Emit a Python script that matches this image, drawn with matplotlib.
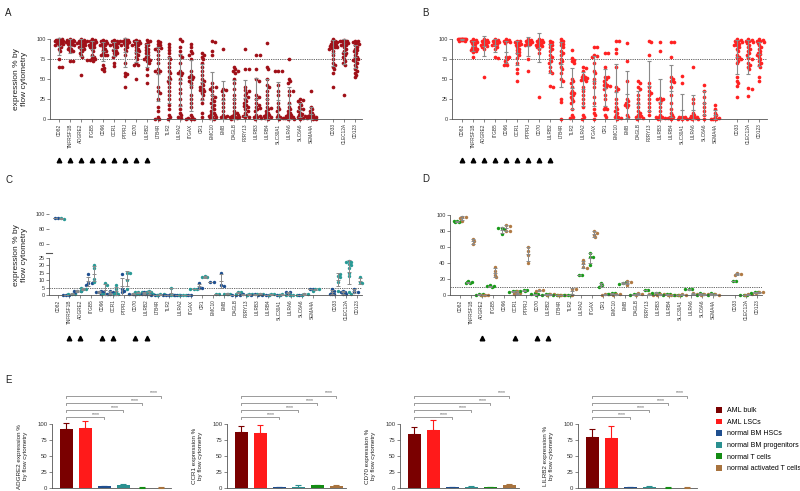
import numpy as np
import matplotlib
matplotlib.use("Agg")
import matplotlib.pyplot as plt
from matplotlib.patches import Patch
from matplotlib.lines import Line2D
from matplotlib.transforms import blended_transform_factory

plt.rcParams['font.family'] = ['Liberation Sans', 'DejaVu Sans']

# ---------------- data ----------------
genes = ['CD82', 'TNFRSF1B', 'ADGRE2', 'ITGB5', 'CD96', 'CCR1', 'PTPRJ', 'CD70', 'LILRB2',
         'LTB4R', 'TLR2', 'LILRA2', 'ITGAX', 'CR1', 'EMC10', 'EMB', 'DAGLB', 'P2RY13',
         'LILRB3', 'LILRB4', 'SLC30A1', 'LILRA6', 'SLC6A6', 'SEMA4A', 'CD33', 'CLEC12A', 'CD123']

aml_bulk = [
    [100, 100, 99, 98, 98, 97, 97, 96, 95, 95, 94, 93, 92, 90, 88, 85, 75, 65, 65],
    [100, 99, 99, 98, 97, 97, 96, 95, 95, 94, 93, 92, 90, 88, 87, 85, 85, 72, 72],
    [100, 99, 98, 97, 96, 95, 95, 94, 93, 92, 90, 90, 88, 87, 85, 83, 80, 77, 55],
    [100, 99, 98, 98, 97, 96, 95, 94, 93, 92, 90, 90, 88, 85, 80, 78, 76, 75, 74, 74, 73],
    [99, 98, 97, 96, 95, 94, 93, 92, 90, 88, 86, 85, 82, 80, 80, 80, 67, 64, 62, 60],
    [99, 98, 97, 96, 95, 94, 93, 92, 91, 90, 88, 86, 85, 83, 82, 80, 78, 70, 66],
    [100, 99, 98, 98, 97, 96, 95, 94, 93, 92, 90, 88, 85, 80, 70, 58, 56, 54, 40],
    [99, 98, 97, 96, 95, 94, 93, 92, 90, 88, 86, 85, 82, 80, 78, 75, 70, 68, 68, 50],
    [99, 98, 96, 94, 92, 90, 88, 86, 84, 82, 80, 78, 76, 75, 74, 72, 70, 62, 55, 45],
    [98, 96, 94, 92, 90, 89, 88, 85, 80, 75, 70, 62, 60, 60, 58, 40, 35, 33, 25, 15, 10, 3, 0, 0],
    [94, 90, 86, 82, 78, 75, 70, 65, 60, 57, 53, 50, 48, 45, 40, 35, 30, 25, 18, 12, 5, 2, 0],
    [100, 98, 90, 85, 80, 78, 70, 60, 58, 57, 55, 50, 45, 38, 32, 25, 18, 12, 8, 5, 3, 1],
    [94, 90, 85, 82, 80, 75, 60, 55, 53, 52, 50, 48, 45, 40, 30, 25, 20, 15, 5, 2, 1, 0, 0, 0],
    [82, 80, 78, 75, 70, 65, 60, 55, 50, 48, 45, 42, 40, 38, 36, 35, 33, 30, 25, 20, 8, 3],
    [98, 96, 85, 80, 45, 40, 40, 38, 35, 30, 28, 25, 22, 20, 18, 15, 12, 10, 8, 6, 5, 4, 3, 2, 1, 0],
    [88, 38, 36, 35, 30, 25, 20, 15, 10, 5, 4, 3, 2],
    [65, 62, 60, 60, 58, 50, 45, 38, 30, 25, 20, 15, 10, 8, 6, 5, 4, 3, 2, 2, 1, 1, 0],
    [88, 63, 63, 40, 36, 35, 33, 30, 28, 25, 22, 20, 18, 16, 15, 12, 10, 8, 5, 4, 3, 2],
    [80, 80, 62, 50, 48, 30, 28, 25, 20, 18, 15, 14, 12, 10, 5, 4, 3, 2, 1, 0],
    [95, 65, 62, 50, 42, 40, 35, 30, 25, 20, 15, 14, 12, 10, 8, 6, 5, 4, 3, 2, 1, 0],
    [60, 60, 60, 42, 35, 30, 20, 15, 12, 10, 5, 3, 2, 1, 0],
    [75, 50, 47, 45, 35, 35, 30, 20, 15, 12, 10, 8, 6, 5, 4, 3, 2, 2, 1, 1, 0, 0],
    [25, 24, 23, 20, 17, 15, 12, 12, 10, 8, 6, 5, 4, 3, 2, 1, 0],
    [35, 15, 12, 10, 8, 6, 5, 4, 3, 3, 2, 2, 1, 1, 0, 0],
    [100, 98, 97, 96, 95, 94, 93, 92, 91, 90, 90, 89, 88, 85, 80, 75, 70, 68, 65, 62, 58, 40],
    [99, 98, 97, 97, 96, 95, 94, 93, 92, 90, 88, 85, 83, 82, 80, 78, 75, 72, 70, 68, 30],
    [98, 97, 96, 95, 94, 92, 90, 88, 86, 85, 83, 80, 78, 76, 75, 74, 72, 70, 68, 65, 62, 60, 58, 55, 52],
]

aml_lsc = [
    [100, 100, 100, 100, 100, 100, 100, 100, 100, 100, 99, 99, 99, 98, 98],
    [100, 99, 98, 97, 96, 95, 94, 92, 90, 89, 88, 87, 86, 85, 84, 77],
    [100, 99, 98, 97, 96, 95, 94, 93, 92, 91, 90, 88, 52],
    [100, 99, 98, 97, 96, 95, 94, 93, 92, 90, 88, 77, 76],
    [100, 99, 98, 97, 96, 95, 78, 77, 75, 73, 70, 67, 67],
    [98, 97, 96, 95, 94, 93, 92, 90, 88, 86, 84, 82, 80, 76, 70, 62, 58, 47],
    [100, 99, 98, 97, 96, 95, 94, 93, 92, 75, 60],
    [100, 99, 98, 97, 96, 95, 94, 93, 92, 91, 90, 88, 82, 28],
    [98, 96, 94, 92, 90, 88, 85, 80, 78, 75, 72, 70, 65, 60, 58, 41, 40],
    [100, 98, 96, 94, 92, 90, 85, 83, 80, 75, 72, 70, 65, 62, 58, 50, 48, 25, 21, 0],
    [86, 76, 74, 72, 70, 50, 47, 45, 40, 35, 33, 32, 30, 28, 25, 22, 20, 13, 5, 2, 1],
    [65, 64, 60, 55, 53, 52, 51, 50, 49, 48, 40, 35, 30, 25, 20, 15, 5, 2, 0],
    [90, 90, 80, 79, 78, 70, 60, 57, 50, 45, 40, 28, 20, 12, 8, 5, 0],
    [83, 83, 65, 53, 52, 50, 48, 45, 43, 42, 41, 40, 38, 30, 25, 15, 13, 12, 5, 2],
    [97, 97, 87, 83, 65, 40, 38, 35, 25, 20, 15, 12, 10, 8, 5, 3, 2, 1, 0],
    [95, 72, 47, 25, 22, 20, 18, 17, 15, 5, 2],
    [47, 45, 40, 38, 30, 25, 20, 15, 10, 8, 5, 4, 3, 2, 1, 0],
    [98, 96, 80, 45, 40, 35, 33, 30, 25, 20, 15, 10, 5],
    [96, 85, 26, 25, 25, 24, 20, 15, 10, 5, 3, 2, 2, 1, 1, 0],
    [96, 96, 77, 52, 50, 47, 46, 40, 30, 20, 12, 8, 5, 3, 2, 1, 0],
    [54, 45, 3, 2, 2, 1, 1, 0, 0, 0],
    [65, 25, 20, 8, 5, 4, 3, 2, 1, 1, 0, 0],
    [43, 35, 28, 20, 15, 10, 5, 0],
    [17, 13, 8, 5, 2, 1, 0, 0, 0],
    [100, 99, 98, 97, 96, 95, 94, 93, 92, 90, 88, 85, 80, 78, 76, 75, 73, 70, 53, 48, 45, 41, 28],
    [100, 99, 98, 97, 96, 95, 93, 90, 88, 85, 82, 80, 76, 75, 70, 68, 65, 62, 39, 38, 29],
    [100, 99, 98, 97, 96, 95, 92, 90, 88, 85, 83, 81, 80, 78, 75, 72, 70, 68, 65, 52, 47],
]

bm_hsc = [
    [95, 95], [0, 0, 0], [3, 3, 2, 3], [14, 8, 8, 7], [2, 2, 2, 1, 3], [3, 2, 1, 1, 0.5],
    [14, 4, 3, 2], [1, 1, 0.5, 0.5], [2, 2, 1, 1, 0.5], [0, 0, 0], [0, 0, 0], [0, 0, 0],
    [0, 0], [8, 5, 5], [9, 9], [15, 7, 6], [0, 0], [0.5, 0, 0], [0.5, 0, 0], [0, 0, 0],
    [0, 0], [1, 2, 2, 0], [0, 0], [4, 4], [4, 3, 2, 1, 1, 0.5], [3, 2, 2, 1, 1], [4, 2, 2],
]
bm_prog = [
    [94, 93], [1, 1, 0.5], [4, 4, 3, 5], [20, 18, 11, 9], [8, 7, 1, 1, 0.5], [7, 4, 2, 1, 1, 0.5],
    [15, 15, 10, 4], [2, 2, 1, 2, 1], [3, 2, 2, 1, 1], [0.5, 0.5, 0], [0, 5, 0], [0, 0, 0],
    [4, 4, 4], [13, 12, 12], [0.5, 0.5], [1, 1, 1, 0.5], [2, 2, 1], [1, 0.5, 0], [1, 1, 0.5],
    [1, 0.5, 0], [0.5, 0, 0], [0, 0, 0], [1, 1, 0], [4, 4, 3], [13, 12, 9, 3, 14],
    [23, 22, 22, 21, 20, 18, 15, 13, 2, 1], [12, 9, 8],
]
t_cells = [
    [93, 92, 91, 91, 92], [17, 16, 15, 15, 16], [1, 1, 0.5, 0.5], [12, 11, 11, 10],
    [84, 82, 76, 84], [5, 5, 4, 4], [6, 6, 5, 5], [2, 1, 1, 0.5], [1, 1, 0.5, 0.5],
    [0.5, 0.5, 0], [0, 0, 0], [25, 25], [52, 48, 47, 38], [15, 12, 10], [2, 2, 1],
    [15, 16, 14], [1, 1, 0.5], [6, 6], [3, 3, 2], [1, 1, 0.5], [0.5, 0, 0], [8, 7, 7],
    [2, 1, 0], [2, 1, 0], [17, 17], [0, 0, 0], [4, 4, 3],
]
act_t_cells = [
    [98, 97, 96, 93], [70, 67, 64], [0.5, 0.5, 0, 0], [35, 30, 25, 22], [87, 86, 80, 80],
    [5, 3, 2, 1], [60, 55, 50, 40], [6, 6, 5], [1, 1, 0.5], [0.5, 0, 0], [7, 7, 0],
    [44, 40, 35, 34], [80, 78, 75, 72], [1, 1, 0], [1, 1, 0.5], [17, 16, 13], [2, 1, 0.5],
    [1, 0], [1, 1, 0], [0.5, 0, 0], [1, 0, 0], [2, 1], [1, 1, 0], [1, 0], [27, 26, 25],
    [1, 1, 0.5], [4, 4, 3],
]

marked_ab = ['CD82', 'TNFRSF1B', 'ADGRE2', 'ITGB5', 'CD96', 'CCR1', 'PTPRJ', 'CD70', 'LILRB2']
marked_c = ['TNFRSF1B', 'ADGRE2', 'CD96', 'CCR1', 'CD70', 'LILRB2']
marked_d = ['ADGRE2', 'CCR1', 'CD70', 'LILRB2']

groups = ['AML bulk', 'AML LSCs', 'normal BM HSCs', 'normal BM progenitors',
          'normal T cells', 'normal activated T cells']
bar_genes = ['ADGRE2', 'CCR1', 'CD70', 'LILRB2']
bar_means = [
    [92, 94, 3, 4, 0.5, 0.5],
    [88, 86, 1, 2, 4, 2.5],
    [84, 91, 1, 2, 1, 5],
    [80, 78, 1, 1.5, 0.5, 0.5],
]
bar_sd = [
    [10, 11, 0.6, 1.5, 0.3, 0.3],
    [9, 13, 1, 2, 1, 1.5],
    [12, 16, 0.5, 1, 0.5, 1],
    [13, 19, 0.5, 1.5, 0.3, 0.3],
]

# ---------------- style ----------------
W, H = 800, 491
fig = plt.figure(figsize=(8, 4.91), dpi=100)

C_BULK = '#a01018'
C_LSC = '#ff2222'
C_HSC = '#1f4f8f'
C_PROG = '#2a9a96'
C_T = '#1a9a1a'
C_ACT = '#b07a44'
BAR_COLORS = ['#7a0000', '#ff1a1a', '#1f4f8f', '#2a9090', '#148c14', '#a8733e']
GRAY = '#8a8a8a'
AX = '#555555'


def pax(x0, y0, x1, y1):
    return fig.add_axes([x0 / W, 1 - y1 / H, (x1 - x0) / W, (y1 - y0) / H])


def style(ax, ysize=4):
    for s in ['top', 'right']:
        ax.spines[s].set_visible(False)
    for s in ['left', 'bottom']:
        ax.spines[s].set_linewidth(0.6)
        ax.spines[s].set_color(AX)
    ax.tick_params(length=2, width=0.5, colors=AX, labelcolor='#333333', pad=1.2)
    ax.tick_params(axis='y', labelsize=ysize)
    ax.tick_params(axis='x', labelsize=3.4)


def swarm_x(vals, center, xpx, ypx, d=2.6, maxoff=4.5):
    step = 1.1
    cands = [0.0]
    k = 1
    while k * step <= maxoff:
        cands += [k * step, -k * step]
        k += 1
    placed, out = [], []
    for v in vals:
        y = v * ypx
        best, bestd = 0.0, -1.0
        for c in cands:
            md = min([(c - px) ** 2 + (y - py) ** 2 for px, py in placed] + [1e9])
            if md >= d * d:
                best = c
                break
            if md > bestd:
                best, bestd = c, md
        placed.append((best, y))
        out.append(center + best / xpx)
    return np.array(out)


def meansd(ax, x, vals, lw=0.8, ms=3):
    v = np.asarray(vals, float)
    m = v.mean()
    s = v.std(ddof=1) if len(v) > 1 else 0.0
    lo = max(m - s, 0)
    ax.errorbar([x], [m], yerr=[[m - lo], [s]], fmt='_', color=GRAY, ecolor=GRAY,
                elinewidth=lw, capsize=1.3, capthick=0.7, ms=ms, mew=0.8,
                zorder=3, clip_on=False)


positions = [i if i < 24 else i + 1 for i in range(len(genes))]


def triangles(ax, marked, yfig):
    trans = blended_transform_factory(ax.transData, fig.transFigure)
    xs = [positions[genes.index(g)] for g in marked]
    ax.plot(xs, [1 - yfig / H] * len(xs), '^', color='black', ms=3.3,
            transform=trans, clip_on=False)


def set_xlabels(ax):
    ax.set_xticks(positions)
    ax.set_xticklabels(genes, rotation=90)


def dotted(ax, y):
    ax.axhline(y, color='#555555', lw=0.6, ls=(0, (1.5, 1.2)), zorder=0)


def scatter_panel(ax, data, color, xpx, ypx):
    for i, vals in enumerate(data):
        xs = swarm_x(vals, positions[i], xpx, ypx)
        ax.scatter(xs, vals, s=7, color=color, linewidths=0, zorder=2, clip_on=False)
        meansd(ax, positions[i], vals)


# ---------------- panel A ----------------
axA = pax(50, 39, 362, 119)
style(axA)
axA.set_xlim(-0.82, 27.64)
axA.set_ylim(0, 100)
axA.set_yticks([0, 25, 50, 75, 100])
dotted(axA, 75)
scatter_panel(axA, aml_bulk, C_BULK, 10.95, 0.8)
set_xlabels(axA)
axA.set_ylabel('expression % by\nflow cytometry', fontsize=6, labelpad=6, color='#222222')
triangles(axA, marked_ab, 160)

# ---------------- panel B ----------------
axB = pax(452, 39, 767, 119)
style(axB)
axB.set_xlim(-0.9, 27.7)
axB.set_ylim(0, 100)
axB.set_yticks([0, 25, 50, 75, 100])
dotted(axB, 75)
scatter_panel(axB, aml_lsc, C_LSC, 11.0, 0.8)
set_xlabels(axB)
triangles(axB, marked_ab, 160)

# ---------------- panel C (broken axis) ----------------
axCu = pax(49, 214, 362, 251)
axCl = pax(49, 258, 362, 295)
for ax in (axCu, axCl):
    style(ax)
    ax.set_xlim(-0.8, 27.45)
axCu.set_ylim(50, 100)
axCu.set_yticks([60, 80, 100])
axCu.spines['bottom'].set_visible(False)
axCu.spines['left'].set_visible(False)
axCu.set_xticks([])
axCl.set_ylim(0, 25)
axCl.set_yticks([0, 5, 10, 15, 20, 25])
dotted(axCl, 5)
for i in range(len(genes)):
    for vals, col, off in ((bm_hsc[i], C_HSC, -0.25), (bm_prog[i], C_PROG, 0.25)):
        x0 = positions[i] + off
        v = np.asarray(vals, float)
        ax = axCu if v.mean() > 25 else axCl
        ypx = 0.725 if ax is axCu else 1.48
        xs = swarm_x(vals, x0, 11.0, ypx, d=2.4, maxoff=3.5)
        ax.scatter(xs, vals, s=6, color=col, linewidths=0, zorder=2, clip_on=False)
        m, s = v.mean(), v.std(ddof=1)
        ax.errorbar([x0], [m], yerr=[[m - max(m - s, 0)], [s]], fmt='_', color=GRAY,
                    ecolor=GRAY, elinewidth=0.7, capsize=1.2, capthick=0.6, ms=2.5,
                    mew=0.7, zorder=3, clip_on=False)
set_xlabels(axCl)
fig.add_artist(Line2D([46 / W, 52 / W], [1 - 253 / H] * 2, color=AX, lw=0.8))
fig.text(21 / W, 1 - 255 / H, 'expression % by\nflow cytometry', fontsize=6, rotation=90,
         ha='center', va='center', color='#222222')
triangles(axCl, marked_c, 338)

# ---------------- panel D ----------------
axD = pax(450, 215, 762, 295)
style(axD)
axD.set_xlim(-0.9, 27.45)
axD.set_ylim(0, 100)
axD.set_yticks([0, 20, 40, 60, 80, 100])
dotted(axD, 10)
for i in range(len(genes)):
    for vals, col, off in ((t_cells[i], C_T, -0.22), (act_t_cells[i], C_ACT, 0.22)):
        x0 = positions[i] + off
        xs = swarm_x(vals, x0, 11.0, 0.8, d=2.4, maxoff=3.5)
        axD.scatter(xs, vals, s=6, color=col, linewidths=0, zorder=2, clip_on=False)
        v = np.asarray(vals, float)
        m, s = v.mean(), v.std(ddof=1)
        axD.errorbar([x0], [m], yerr=[[m - max(m - s, 0)], [s]], fmt='_', color=GRAY,
                     ecolor=GRAY, elinewidth=0.7, capsize=1.2, capthick=0.6, ms=2.5,
                     mew=0.7, zorder=3, clip_on=False)
set_xlabels(axD)
triangles(axD, marked_d, 338)

# ---------------- panel E ----------------
e_lefts = [52, 227, 400, 578]
for k, gname in enumerate(bar_genes):
    ax = pax(e_lefts[k], 389, e_lefts[k] + 119, 488)
    style(ax, ysize=4.3)
    ax.set_xlim(-0.75, 5.5)
    ax.set_ylim(0, 155)
    ax.spines['left'].set_bounds(0, 100)
    ax.set_yticks([0, 25, 50, 75, 100])
    ax.set_xticks([])
    xs = np.arange(len(groups))
    ax.bar(xs, bar_means[k], width=0.68, color=BAR_COLORS, edgecolor='none', zorder=2)
    for j in range(len(groups)):
        ax.errorbar([xs[j]], [bar_means[k][j]], yerr=[[0], [bar_sd[k][j]]], fmt='none',
                    ecolor=BAR_COLORS[j], elinewidth=0.8, capsize=2.2, capthick=0.8,
                    zorder=3, clip_on=False)
    for n, tgt in enumerate([2, 3, 4, 5]):
        yb = 111 + 11 * n
        ax.plot([0, 0, tgt, tgt], [yb - 3, yb, yb, yb - 3], color=GRAY, lw=0.6,
                clip_on=False)
        ax.text(tgt - 0.42, yb + 0.8, '****', fontsize=3.6, ha='center', va='bottom',
                color='#555555')
    ax.set_ylabel(f'{gname} expression %\nby flow cytometry', fontsize=4.5,
                  color='#222222', labelpad=4)
    ax.yaxis.set_label_coords(-0.2, 50 / 155)

handles = [Patch(facecolor=c, edgecolor='none') for c in BAR_COLORS]
fig.legend(handles, groups, loc='upper left', bbox_to_anchor=(716 / W, 1 - 407 / H),
           frameon=False, fontsize=5, handlelength=0.9, handleheight=0.9,
           handletextpad=0.7, labelspacing=0.62, borderpad=0, borderaxespad=0)

# ---------------- panel letters ----------------
for letter, x, y in (('A', 5, 13), ('B', 422, 13), ('C', 5, 180), ('D', 422, 179), ('E', 5, 380)):
    fig.text(x / W, 1 - y / H, letter, fontsize=7, ha='left', va='center', color='#222222')

fig.savefig('out.png', dpi=100)
